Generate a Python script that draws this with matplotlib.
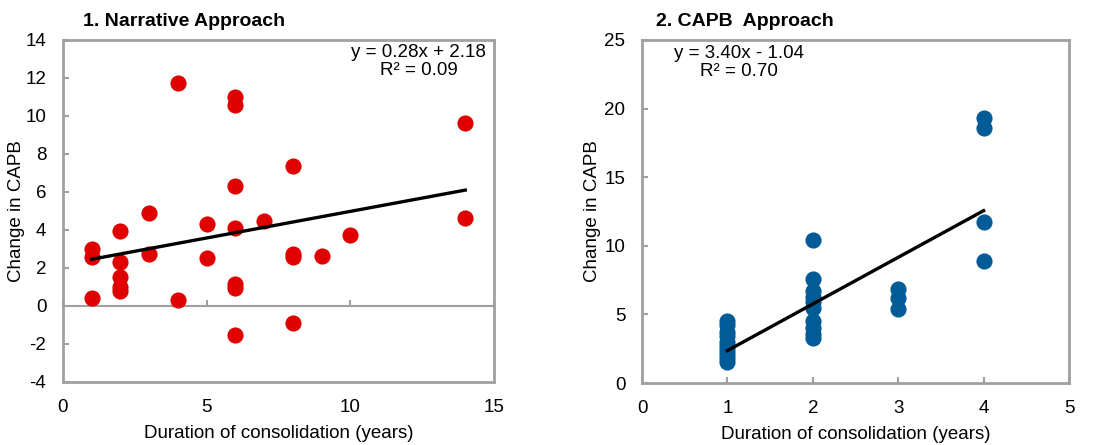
import numpy as np
import matplotlib
matplotlib.use('Agg')
import matplotlib.pyplot as plt

plt.rcParams['font.family'] = ['Liberation Sans', 'DejaVu Sans']
plt.rcParams['font.size'] = 13.5
plt.rcParams['axes.unicode_minus'] = False

# panel 1: narrative approach
narr_dur = [1, 1, 1,
            2, 2, 2, 2, 2,
            3, 3,
            4, 4,
            5, 5,
            6, 6, 6, 6, 6, 6, 6,
            7,
            8, 8, 8, 8,
            9, 10,
            14, 14]
narr_capb = [3.0, 2.6, 0.4,
             3.95, 2.3, 1.55, 1.0, 0.8,
             4.9, 2.75,
             11.75, 0.3,
             4.3, 2.55,
             11.0, 10.6, 6.3, 4.1, 1.15, 0.95, -1.5,
             4.5,
             7.35, 2.75, 2.6, -0.9,
             2.65, 3.75,
             9.65, 4.65]
narr_fit = (0.28, 2.18)
narr_eq = 'y = 0.28x + 2.18\nR² = 0.09'

# panel 2: CAPB approach
capb_dur = [1, 1, 1, 1, 1, 1, 1, 1, 1, 1,
            2, 2, 2, 2, 2, 2, 2, 2, 2, 2,
            3, 3, 3,
            4, 4, 4, 4]
capb_capb = [4.5, 4.2, 3.7, 3.4, 3.0, 2.7, 2.4, 2.1, 1.8, 1.5,
             10.45, 7.6, 6.7, 6.3, 5.9, 5.5, 4.5, 4.0, 3.6, 3.3,
             6.85, 6.2, 5.4,
             19.35, 18.55, 11.75, 8.9]
capb_fit = (3.40, -1.04)
capb_eq = 'y = 3.40x - 1.04\nR² = 0.70'

red = '#e00000'
blue = '#005b96'
frame = '#a0a0a0'
fs = 13.5

fig = plt.figure(figsize=(11.02, 4.45), dpi=100)
ax1 = fig.add_axes([63/1102, 63/445, 431/1102, 342/445])
ax2 = fig.add_axes([642/1102, 62/445, 427/1102, 343/445])


def style(ax, ylab_x):
    for s in ax.spines.values():
        s.set_color(frame)
        s.set_linewidth(2)
    ax.tick_params(direction='in', length=4, width=1.5, color=frame,
                   labelsize=fs, pad=12)
    ax.set_ylabel('Change in CAPB', fontsize=fs, va='center')
    ax.yaxis.set_label_coords(ylab_x, 0.5)


# ---- panel 1 ----
ax1.scatter(narr_dur, narr_capb, s=135, color=red, zorder=3, linewidths=0)
xf = np.array([min(narr_dur), max(narr_dur)])
ax1.plot(xf, narr_fit[0]*xf + narr_fit[1], color='black', lw=2.4, zorder=4)
ax1.set_xlim(0, 15)
ax1.set_ylim(-4, 14)
ax1.set_yticks(range(-4, 15, 2))
style(ax1, -0.107)
# x axis crosses at y = 0, labels stay at the bottom
ax1.spines['bottom'].set_position(('data', 0))
ax1.spines['bottom'].set_linewidth(1.5)
ax1.set_xticks([0, 5, 10, 15])
ax1.tick_params(axis='x', labelbottom=False)
sec = ax1.secondary_xaxis(0)
sec.spines['bottom'].set_color(frame)
sec.spines['bottom'].set_linewidth(2)
sec.set_xticks([0, 5, 10, 15])
sec.tick_params(length=0, labelsize=fs, pad=12)
sec.set_xlabel('Duration of consolidation (years)', fontsize=fs, labelpad=7)
ax1.text(0.825, 0.987, narr_eq, transform=ax1.transAxes, ha='center',
         va='top', fontsize=fs, linespacing=1.05)
ax1.text(0.046, 1.03, '1. Narrative Approach', transform=ax1.transAxes,
         ha='left', va='bottom', fontsize=14, fontweight='bold')

# ---- panel 2 ----
ax2.scatter(capb_dur, capb_capb, s=135, color=blue, zorder=3, linewidths=0)
xf = np.array([min(capb_dur), max(capb_dur)])
ax2.plot(xf, capb_fit[0]*xf + capb_fit[1], color='black', lw=2.4, zorder=4)
ax2.set_xlim(0, 5)
ax2.set_ylim(0, 25)
ax2.set_xticks(range(0, 6))
ax2.set_yticks(range(0, 26, 5))
style(ax2, -0.117)
ax2.tick_params(axis='x', pad=12)
ax2.set_xlabel('Duration of consolidation (years)', fontsize=fs, labelpad=7)
ax2.text(0.228, 0.985, capb_eq, transform=ax2.transAxes, ha='center',
         va='top', fontsize=fs, linespacing=1.05)
ax2.text(0.033, 1.03, '2. CAPB  Approach', transform=ax2.transAxes,
         ha='left', va='bottom', fontsize=14, fontweight='bold')

fig.savefig('out.png', dpi=100)
